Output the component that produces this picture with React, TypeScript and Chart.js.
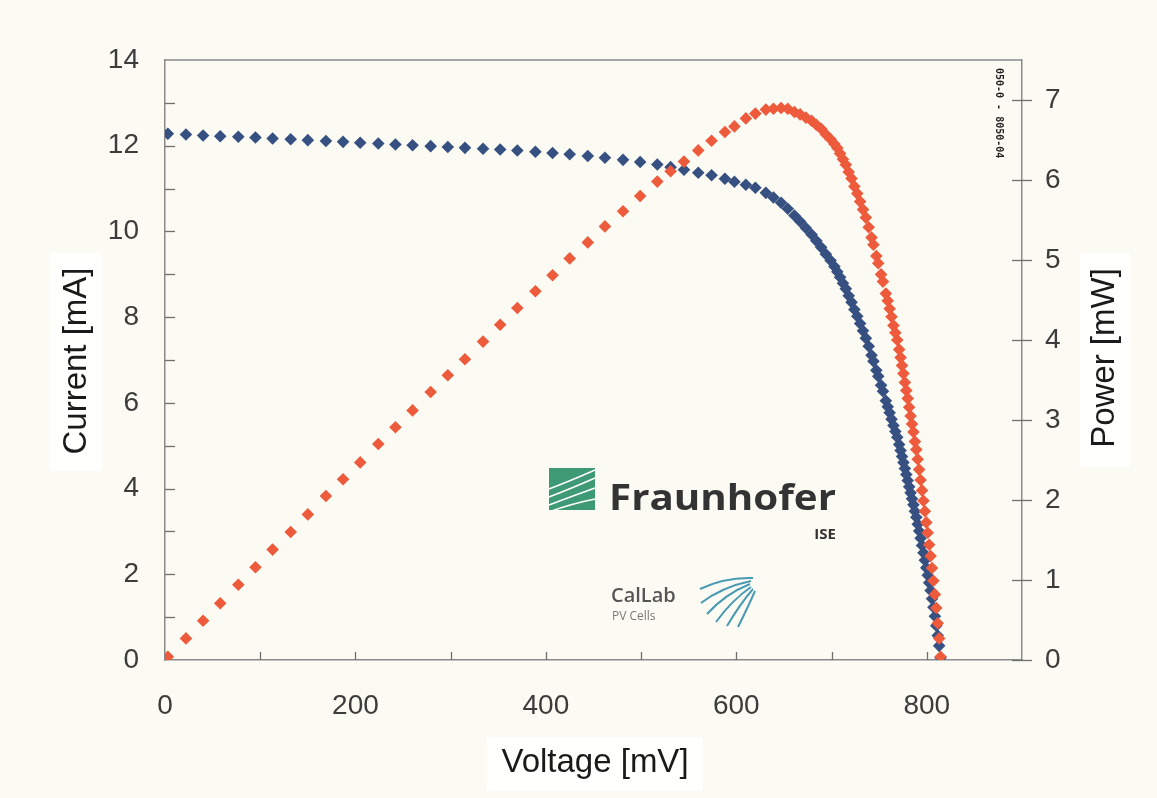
import React, { useEffect, useRef } from 'react';
import Chart from 'chart.js/auto';

// Voltage [mV] of each measured point (shared by both series)
const voltage = [
  3, 22, 40, 58, 77, 95, 113, 132, 150, 169,
  187, 205, 224, 242, 260, 279, 297, 315, 334, 352,
  370, 389, 407, 425, 444, 462, 481, 499, 517, 531,
  545, 560, 574, 588, 598, 610, 620, 631, 639,
  647, 654, 661, 667, 673, 679, 684, 689, 694, 699,
  703, 706, 709, 712, 715, 718, 721, 724, 727, 730, 733, 736, 739,
  742, 744, 747, 749, 752, 754, 757, 759, 761, 763, 765, 767, 769,
  771, 772.5, 774, 775.5, 777, 778.5, 780, 781.5, 783, 784.5,
  786, 787.5, 789, 790.5, 792, 793.5, 795, 796.5, 798, 799.5,
  801, 802.5, 804, 805.5, 807, 808.5, 810, 811.5, 813, 814.5,
];

// Current [mA]
const current = [
  12.28, 12.26, 12.24, 12.22, 12.21, 12.19, 12.17, 12.15, 12.13, 12.11,
  12.09, 12.07, 12.05, 12.03, 12.01, 11.99, 11.97, 11.95, 11.93, 11.91,
  11.89, 11.86, 11.83, 11.8, 11.76, 11.72, 11.67, 11.62, 11.56, 11.5,
  11.44, 11.37, 11.31, 11.23, 11.16, 11.09, 11.02, 10.9, 10.79,
  10.67, 10.53, 10.37, 10.23, 10.08, 9.93, 9.78, 9.63, 9.47, 9.32,
  9.18, 9.06, 8.93, 8.79, 8.66, 8.5, 8.35, 8.18, 8.02, 7.85, 7.68, 7.51, 7.32,
  7.11, 6.97, 6.76, 6.62, 6.41, 6.27, 6.05, 5.91, 5.77, 5.62, 5.47, 5.33, 5.2,
  5.03, 4.89, 4.75, 4.61, 4.47, 4.33, 4.19, 4.04, 3.9, 3.76,
  3.62, 3.47, 3.33, 3.17, 3.01, 2.84, 2.67, 2.5, 2.33, 2.15,
  1.98, 1.8, 1.62, 1.43, 1.23, 1.02, 0.8, 0.57, 0.33, 0.05,
];

// Power [mW]
const power = [
  0.04, 0.27, 0.49, 0.71, 0.94, 1.16, 1.38, 1.6, 1.82, 2.05,
  2.26, 2.47, 2.7, 2.91, 3.12, 3.35, 3.56, 3.76, 3.98, 4.19,
  4.4, 4.61, 4.81, 5.02, 5.22, 5.42, 5.61, 5.8, 5.98, 6.11,
  6.23, 6.37, 6.49, 6.6, 6.67, 6.77, 6.83, 6.88, 6.89,
  6.9, 6.89, 6.85, 6.82, 6.78, 6.74, 6.69, 6.64, 6.57, 6.51,
  6.45, 6.4, 6.33, 6.26, 6.19, 6.1, 6.02, 5.92, 5.83, 5.73, 5.63, 5.53, 5.41,
  5.28, 5.19, 5.05, 4.96, 4.82, 4.73, 4.58, 4.49, 4.39, 4.29, 4.18, 4.09, 4.0,
  3.88, 3.78, 3.68, 3.58, 3.47, 3.37, 3.27, 3.16, 3.05, 2.95,
  2.85, 2.73, 2.63, 2.51, 2.38, 2.25, 2.12, 1.99, 1.86, 1.72,
  1.59, 1.44, 1.3, 1.15, 0.99, 0.82, 0.65, 0.46, 0.27, 0.04,
];

const voltageTickLabels = [0, 200, 400, 600, 800];
const currentTickLabels = [0, 2, 4, 6, 8, 10, 12, 14];
const powerTickLabels = [0, 1, 2, 3, 4, 5, 6, 7];

const xTitle = 'Voltage [mV]';
const yTitle = 'Current [mA]';
const y1Title = 'Power [mW]';

const BG = '#fcfbf3';
const AXIS = '#8a8a8a';
const LABEL = '#3c3c3c';
const FONT = "'Liberation Sans', Arial, sans-serif";

export default function App() {
  const ref = useRef<HTMLCanvasElement>(null);

  useEffect(() => {
    const canvas = ref.current as HTMLCanvasElement;

    const decor = {
      id: 'decor',
      beforeDraw(chart: any) {
        const ctx = chart.ctx;
        ctx.save();
        ctx.fillStyle = BG;
        ctx.fillRect(0, 0, chart.width, chart.height);
        ctx.fillStyle = '#fffffd';
        ctx.fillRect(487, 737, 216, 54);
        ctx.fillRect(1080, 253, 50, 214);
        ctx.fillRect(50, 253, 52, 218);
        ctx.restore();
      },
      beforeDatasetsDraw(chart: any) {
        const ctx = chart.ctx;
        const { left, right, top, bottom } = chart.chartArea;
        const xs = chart.scales.x;
        const ys = chart.scales.y;
        const y1 = chart.scales.y1;
        ctx.save();
        // top frame line
        ctx.strokeStyle = AXIS;
        ctx.lineWidth = 1.5;
        ctx.beginPath();
        ctx.moveTo(left, top);
        ctx.lineTo(right, top);
        ctx.stroke();
        // tick marks
        ctx.lineWidth = 1.3;
        ctx.strokeStyle = '#6f6f6f';
        for (let v = 100; v < 900; v += 100) {
          const px = Math.round(xs.getPixelForValue(v)) + 0.5;
          ctx.beginPath();
          ctx.moveTo(px, bottom);
          ctx.lineTo(px, bottom - 8);
          ctx.stroke();
        }
        for (let v = 1; v < 14; v++) {
          const py = Math.round(ys.getPixelForValue(v)) + 0.5;
          ctx.beginPath();
          ctx.moveTo(left, py);
          ctx.lineTo(left + 10, py);
          ctx.stroke();
        }
        for (let v = 0; v <= 7; v++) {
          const py = Math.round(y1.getPixelForValue(v)) + 0.5;
          ctx.beginPath();
          ctx.moveTo(right - 10, py);
          ctx.lineTo(right + 10, py);
          ctx.stroke();
        }

        // Fraunhofer logo square
        ctx.fillStyle = '#3d9a74';
        ctx.fillRect(549, 468, 46, 42);
        ctx.strokeStyle = '#ffffff';
        ctx.lineWidth = 1.6;
        const starts = [483, 491, 499, 506];
        const ends = [470, 478, 488, 499];
        for (let i = 0; i < starts.length; i++) {
          ctx.beginPath();
          ctx.moveTo(549, starts[i] + 6);
          ctx.quadraticCurveTo(570, starts[i] - 2, 595, ends[i]);
          ctx.stroke();
        }
        // Fraunhofer text
        ctx.fillStyle = '#333333';
        ctx.font = "bold 36px 'Open Sans', 'Liberation Sans', sans-serif";
        ctx.textBaseline = 'alphabetic';
        ctx.textAlign = 'left';
        const fw = ctx.measureText('Fraunhofer').width;
        ctx.save();
        ctx.translate(609, 510);
        ctx.scale(227 / fw, 1);
        ctx.fillText('Fraunhofer', 0, 0);
        ctx.restore();
        ctx.font = "bold 15px 'Open Sans', 'Liberation Sans', sans-serif";
        ctx.textAlign = 'right';
        ctx.fillText('ISE', 836, 539);
        // CalLab
        ctx.textAlign = 'left';
        ctx.fillStyle = '#555555';
        ctx.font = "600 20px 'Open Sans', 'Liberation Sans', sans-serif";
        ctx.fillText('CalLab', 611, 602);
        ctx.fillStyle = '#777777';
        ctx.font = "12px 'Open Sans', 'Liberation Sans', sans-serif";
        ctx.fillText('PV Cells', 612, 620);
        // fan
        ctx.strokeStyle = '#4a9ab3';
        ctx.lineWidth = 2;
        const fan = [
          [753, 578, 700, 589, 725, 577],
          [751, 581, 701, 603, 722, 587],
          [750, 584, 707, 614, 725, 594],
          [751, 587, 716, 622, 732, 600],
          [753, 589, 727, 626, 740, 604],
          [755, 591, 738, 627, 748, 607],
        ];
        for (const f of fan) {
          ctx.beginPath();
          ctx.moveTo(f[0], f[1]);
          ctx.quadraticCurveTo(f[4], f[5], f[2], f[3]);
          ctx.stroke();
        }
        // small rotated stamp
        ctx.save();
        ctx.translate(999, 68);
        ctx.rotate(Math.PI / 2);
        ctx.fillStyle = '#222222';
        ctx.font = "bold 10px 'DejaVu Sans Mono', monospace";
        ctx.textAlign = 'left';
        ctx.textBaseline = 'middle';
        ctx.fillText('050-0 - 8050-04', 0, 0);
        ctx.restore();
        ctx.restore();
      },
      afterDraw(chart: any) {
        const ctx = chart.ctx;
        ctx.save();
        ctx.fillStyle = '#1a1a1a';
        ctx.font = `33px ${FONT}`;
        ctx.textAlign = 'center';
        ctx.textBaseline = 'middle';
        ctx.fillText(xTitle, 595, 763);
        ctx.save();
        ctx.translate(77, 361);
        ctx.rotate(-Math.PI / 2);
        ctx.fillText(yTitle, 0, 0);
        ctx.restore();
        ctx.save();
        ctx.translate(1105, 358);
        ctx.rotate(-Math.PI / 2);
        ctx.fillText(y1Title, 0, 0);
        ctx.restore();
        ctx.restore();
      },
    };

    const chart = new Chart(canvas, {
      type: 'scatter',
      data: {
        datasets: [
          {
            label: 'Power',
            data: voltage.map((v, i) => ({ x: v, y: power[i] })),
            yAxisID: 'y1',
            backgroundColor: '#ee5a3c',
            borderColor: '#ee5a3c',
            pointStyle: 'rectRot',
            pointRadius: 6.3,
            pointBorderWidth: 0,
            showLine: false,
            order: 0,
          },
          {
            label: 'Current',
            data: voltage.map((v, i) => ({ x: v, y: current[i] })),
            yAxisID: 'y',
            backgroundColor: '#375082',
            borderColor: '#375082',
            pointStyle: 'rectRot',
            pointRadius: 6.3,
            pointBorderWidth: 0,
            showLine: false,
            order: 1,
          },
        ],
      },
      options: {
        responsive: false,
        animation: false,
        devicePixelRatio: 1,
        layout: { padding: { top: 60, left: 0, right: 0, bottom: 0 } },
        plugins: {
          legend: { display: false },
          tooltip: { enabled: false },
          title: { display: false },
        },
        scales: {
          x: {
            type: 'linear',
            position: 'bottom',
            min: 0,
            max: 900,
            grid: { drawOnChartArea: false, drawTicks: false },
            border: { display: true, color: AXIS, width: 1.5 },
            ticks: {
              stepSize: 100,
              autoSkip: false,
              maxRotation: 0,
              padding: 29,
              color: LABEL,
              font: { family: FONT, size: 28 },
              callback: (v: any) => (voltageTickLabels.includes(Number(v)) ? String(v) : ''),
            },
            afterFit: (s: any) => {
              s.height = 138;
            },
          },
          y: {
            type: 'linear',
            position: 'left',
            min: 0,
            max: 14,
            grid: { drawOnChartArea: false, drawTicks: false },
            border: { display: true, color: AXIS, width: 1.5 },
            ticks: {
              stepSize: 1,
              autoSkip: false,
              padding: 26,
              color: LABEL,
              font: { family: FONT, size: 28 },
              callback: (v: any) => (currentTickLabels.includes(Number(v)) ? String(v) : ''),
            },
            afterFit: (s: any) => {
              s.width = 165;
            },
          },
          y1: {
            type: 'linear',
            position: 'right',
            min: 0,
            max: 7.5,
            grid: { drawOnChartArea: false, drawTicks: false },
            border: { display: true, color: AXIS, width: 1.5 },
            ticks: {
              stepSize: 1,
              autoSkip: false,
              padding: 23,
              color: LABEL,
              font: { family: FONT, size: 28 },
              callback: (v: any) => (powerTickLabels.includes(Number(v)) ? String(v) : ''),
            },
            afterFit: (s: any) => {
              s.width = 135;
            },
          },
        },
      },
      plugins: [decor],
    } as any);

    return () => chart.destroy();
  }, []);

  return (
    <div style={{ position: 'fixed', left: 0, top: 0, width: 1157, height: 798, background: BG }}>
      <canvas ref={ref} width={1157} height={798} style={{ display: 'block', width: 1157, height: 798 }} />
    </div>
  );
}
